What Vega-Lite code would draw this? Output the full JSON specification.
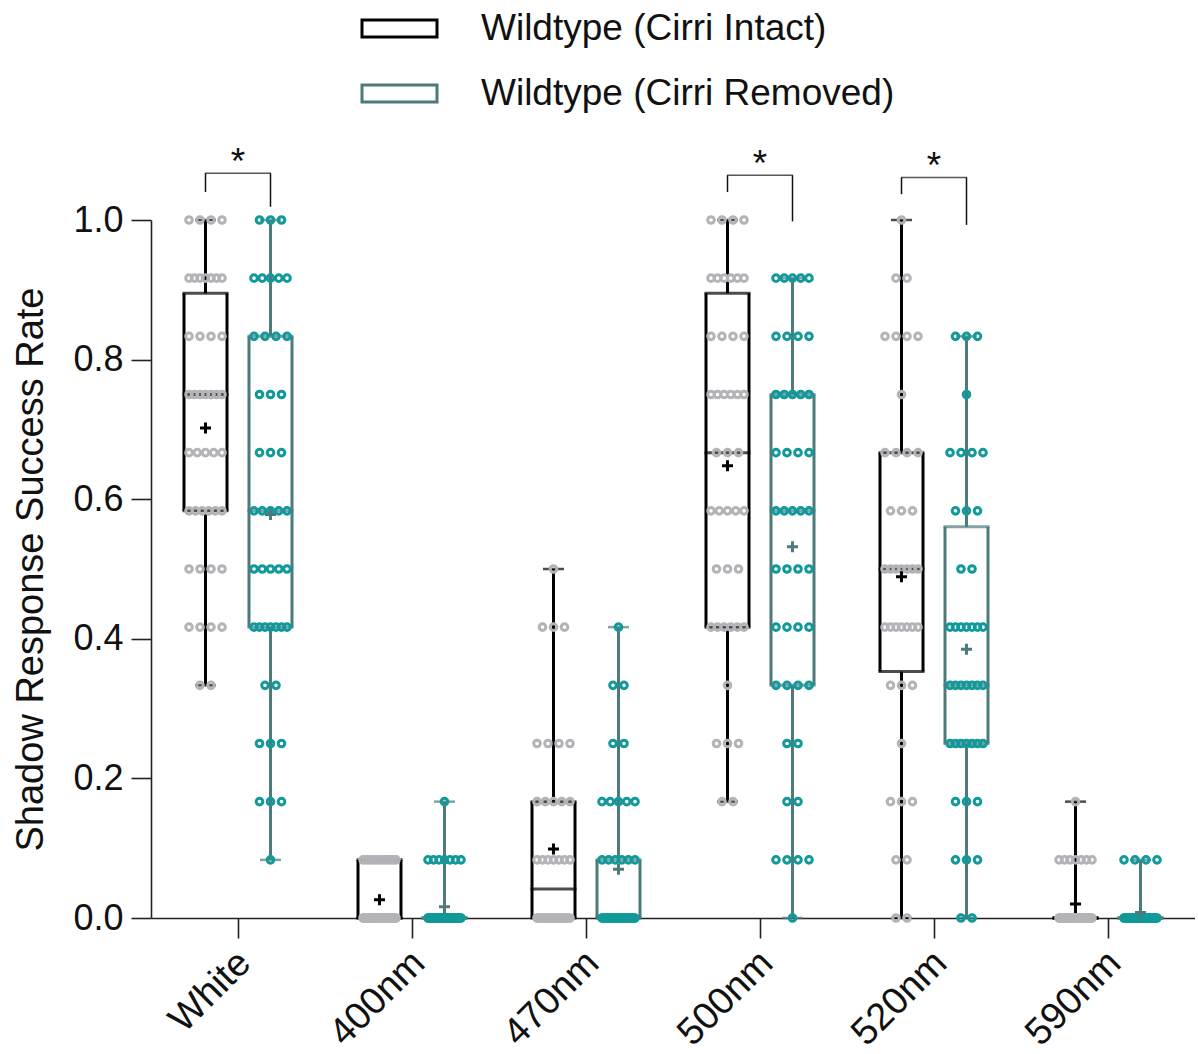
{
"$schema": "https://vega.github.io/schema/vega-lite/v6.json",
"width": 1044, "height": 698,
"autosize": {"type": "pad"},
"padding": {"left": 12, "top": 0, "right": 0, "bottom": 0},
"background": "white",
"config": {
 "font": "Liberation Sans",
 "view": {"stroke": null},
 "axis": {"domainColor": "#222222", "tickColor": "#222222", "domainWidth": 1.6, "tickWidth": 1.6, "labelColor": "#111111", "titleColor": "#111111", "grid": false, "labelFont": "Liberation Sans", "titleFont": "Liberation Sans"},
 "axisY": {"tickCount": 6, "labelFontSize": 36, "titleFontSize": 38, "titleFontWeight": "normal", "tickSize": 20, "labelPadding": 8, "titlePadding": 22},
 "axisX": {"labelAngle": -45, "labelFontSize": 38, "tickSize": 20, "labelPadding": 19, "labelOffset": 7, "labelAlign": "right", "labelBaseline": "middle"}
},
"datasets": {
"stats": [
{"light":"White","grp":"Intact","min":0.3333,"q1":0.5833,"median":0.75,"q3":0.895,"max":1,"mean":0.702},
{"light":"White","grp":"Removed","min":0.0833,"q1":0.4167,"median":0.5833,"q3":0.8333,"max":1,"mean":0.578},
{"light":"400nm","grp":"Intact","min":0,"q1":0,"median":0,"q3":0.0833,"max":0.0833,"mean":0.026},
{"light":"400nm","grp":"Removed","min":0,"q1":0,"median":0,"q3":0,"max":0.1667,"mean":0.016},
{"light":"470nm","grp":"Intact","min":0,"q1":0,"median":0.0417,"q3":0.1667,"max":0.5,"mean":0.099},
{"light":"470nm","grp":"Removed","min":0,"q1":0,"median":0,"q3":0.0833,"max":0.4167,"mean":0.07},
{"light":"500nm","grp":"Intact","min":0.1667,"q1":0.4167,"median":0.6667,"q3":0.895,"max":1,"mean":0.648},
{"light":"500nm","grp":"Removed","min":0,"q1":0.3333,"median":0.5833,"q3":0.75,"max":0.9167,"mean":0.532},
{"light":"520nm","grp":"Intact","min":0,"q1":0.353,"median":0.5,"q3":0.6667,"max":1,"mean":0.489},
{"light":"520nm","grp":"Removed","min":0,"q1":0.25,"median":0.3333,"q3":0.5605,"max":0.8333,"mean":0.385},
{"light":"590nm","grp":"Intact","min":0,"q1":0,"median":0,"q3":0,"max":0.1667,"mean":0.02},
{"light":"590nm","grp":"Removed","min":0,"q1":0,"median":0,"q3":0,"max":0.0833,"mean":0.008}
],
"sig": [
{"light":"White","top":1.067,"left":1.04,"right":1.019,"mark":"*"},
{"light":"500nm","top":1.064,"left":1.04,"right":0.998,"mark":"*"},
{"light":"520nm","top":1.061,"left":1.037,"right":0.993,"mark":"*"}
],
"dots": [
{"light":"White","grp":"Intact","rate":1},{"light":"White","grp":"Intact","rate":1},{"light":"White","grp":"Intact","rate":1},{"light":"White","grp":"Intact","rate":1},
{"light":"White","grp":"Intact","rate":0.9167},{"light":"White","grp":"Intact","rate":0.9167},{"light":"White","grp":"Intact","rate":0.9167},{"light":"White","grp":"Intact","rate":0.9167},{"light":"White","grp":"Intact","rate":0.9167},{"light":"White","grp":"Intact","rate":0.9167},{"light":"White","grp":"Intact","rate":0.9167},
{"light":"White","grp":"Intact","rate":0.8333},{"light":"White","grp":"Intact","rate":0.8333},{"light":"White","grp":"Intact","rate":0.8333},{"light":"White","grp":"Intact","rate":0.8333},
{"light":"White","grp":"Intact","rate":0.75},{"light":"White","grp":"Intact","rate":0.75},{"light":"White","grp":"Intact","rate":0.75},{"light":"White","grp":"Intact","rate":0.75},{"light":"White","grp":"Intact","rate":0.75},{"light":"White","grp":"Intact","rate":0.75},{"light":"White","grp":"Intact","rate":0.75},
{"light":"White","grp":"Intact","rate":0.6667},{"light":"White","grp":"Intact","rate":0.6667},{"light":"White","grp":"Intact","rate":0.6667},{"light":"White","grp":"Intact","rate":0.6667},{"light":"White","grp":"Intact","rate":0.6667},
{"light":"White","grp":"Intact","rate":0.5833},{"light":"White","grp":"Intact","rate":0.5833},{"light":"White","grp":"Intact","rate":0.5833},{"light":"White","grp":"Intact","rate":0.5833},{"light":"White","grp":"Intact","rate":0.5833},{"light":"White","grp":"Intact","rate":0.5833},
{"light":"White","grp":"Intact","rate":0.5},{"light":"White","grp":"Intact","rate":0.5},{"light":"White","grp":"Intact","rate":0.5},{"light":"White","grp":"Intact","rate":0.5},
{"light":"White","grp":"Intact","rate":0.4167},{"light":"White","grp":"Intact","rate":0.4167},{"light":"White","grp":"Intact","rate":0.4167},{"light":"White","grp":"Intact","rate":0.4167},
{"light":"White","grp":"Intact","rate":0.3333},{"light":"White","grp":"Intact","rate":0.3333},
{"light":"White","grp":"Removed","rate":1},{"light":"White","grp":"Removed","rate":1},{"light":"White","grp":"Removed","rate":1},
{"light":"White","grp":"Removed","rate":0.9167},{"light":"White","grp":"Removed","rate":0.9167},{"light":"White","grp":"Removed","rate":0.9167},{"light":"White","grp":"Removed","rate":0.9167},{"light":"White","grp":"Removed","rate":0.9167},
{"light":"White","grp":"Removed","rate":0.8333},{"light":"White","grp":"Removed","rate":0.8333},{"light":"White","grp":"Removed","rate":0.8333},{"light":"White","grp":"Removed","rate":0.8333},
{"light":"White","grp":"Removed","rate":0.75},{"light":"White","grp":"Removed","rate":0.75},{"light":"White","grp":"Removed","rate":0.75},
{"light":"White","grp":"Removed","rate":0.6667},{"light":"White","grp":"Removed","rate":0.6667},{"light":"White","grp":"Removed","rate":0.6667},
{"light":"White","grp":"Removed","rate":0.5833},{"light":"White","grp":"Removed","rate":0.5833},{"light":"White","grp":"Removed","rate":0.5833},{"light":"White","grp":"Removed","rate":0.5833},{"light":"White","grp":"Removed","rate":0.5833},
{"light":"White","grp":"Removed","rate":0.5},{"light":"White","grp":"Removed","rate":0.5},{"light":"White","grp":"Removed","rate":0.5},{"light":"White","grp":"Removed","rate":0.5},{"light":"White","grp":"Removed","rate":0.5},
{"light":"White","grp":"Removed","rate":0.4167},{"light":"White","grp":"Removed","rate":0.4167},{"light":"White","grp":"Removed","rate":0.4167},{"light":"White","grp":"Removed","rate":0.4167},{"light":"White","grp":"Removed","rate":0.4167},{"light":"White","grp":"Removed","rate":0.4167},{"light":"White","grp":"Removed","rate":0.4167},
{"light":"White","grp":"Removed","rate":0.3333},{"light":"White","grp":"Removed","rate":0.3333},
{"light":"White","grp":"Removed","rate":0.25},{"light":"White","grp":"Removed","rate":0.25},{"light":"White","grp":"Removed","rate":0.25},
{"light":"White","grp":"Removed","rate":0.1667},{"light":"White","grp":"Removed","rate":0.1667},{"light":"White","grp":"Removed","rate":0.1667},
{"light":"White","grp":"Removed","rate":0.0833},
{"light":"400nm","grp":"Intact","rate":0.0833},{"light":"400nm","grp":"Intact","rate":0.0833},{"light":"400nm","grp":"Intact","rate":0.0833},{"light":"400nm","grp":"Intact","rate":0.0833},{"light":"400nm","grp":"Intact","rate":0.0833},{"light":"400nm","grp":"Intact","rate":0.0833},{"light":"400nm","grp":"Intact","rate":0.0833},{"light":"400nm","grp":"Intact","rate":0.0833},{"light":"400nm","grp":"Intact","rate":0.0833},{"light":"400nm","grp":"Intact","rate":0.0833},{"light":"400nm","grp":"Intact","rate":0.0833},{"light":"400nm","grp":"Intact","rate":0.0833},
{"light":"400nm","grp":"Intact","rate":0},{"light":"400nm","grp":"Intact","rate":0},{"light":"400nm","grp":"Intact","rate":0},{"light":"400nm","grp":"Intact","rate":0},{"light":"400nm","grp":"Intact","rate":0},{"light":"400nm","grp":"Intact","rate":0},{"light":"400nm","grp":"Intact","rate":0},{"light":"400nm","grp":"Intact","rate":0},{"light":"400nm","grp":"Intact","rate":0},{"light":"400nm","grp":"Intact","rate":0},
{"light":"400nm","grp":"Intact","rate":0},{"light":"400nm","grp":"Intact","rate":0},{"light":"400nm","grp":"Intact","rate":0},{"light":"400nm","grp":"Intact","rate":0},{"light":"400nm","grp":"Intact","rate":0},{"light":"400nm","grp":"Intact","rate":0},{"light":"400nm","grp":"Intact","rate":0},{"light":"400nm","grp":"Intact","rate":0},{"light":"400nm","grp":"Intact","rate":0},{"light":"400nm","grp":"Intact","rate":0},
{"light":"400nm","grp":"Intact","rate":0},{"light":"400nm","grp":"Intact","rate":0},{"light":"400nm","grp":"Intact","rate":0},{"light":"400nm","grp":"Intact","rate":0},{"light":"400nm","grp":"Intact","rate":0},{"light":"400nm","grp":"Intact","rate":0},{"light":"400nm","grp":"Intact","rate":0},{"light":"400nm","grp":"Intact","rate":0},{"light":"400nm","grp":"Intact","rate":0},{"light":"400nm","grp":"Intact","rate":0},
{"light":"400nm","grp":"Removed","rate":0.1667},
{"light":"400nm","grp":"Removed","rate":0.0833},{"light":"400nm","grp":"Removed","rate":0.0833},{"light":"400nm","grp":"Removed","rate":0.0833},{"light":"400nm","grp":"Removed","rate":0.0833},{"light":"400nm","grp":"Removed","rate":0.0833},{"light":"400nm","grp":"Removed","rate":0.0833},{"light":"400nm","grp":"Removed","rate":0.0833},
{"light":"400nm","grp":"Removed","rate":0},{"light":"400nm","grp":"Removed","rate":0},{"light":"400nm","grp":"Removed","rate":0},{"light":"400nm","grp":"Removed","rate":0},{"light":"400nm","grp":"Removed","rate":0},{"light":"400nm","grp":"Removed","rate":0},{"light":"400nm","grp":"Removed","rate":0},{"light":"400nm","grp":"Removed","rate":0},{"light":"400nm","grp":"Removed","rate":0},{"light":"400nm","grp":"Removed","rate":0},
{"light":"400nm","grp":"Removed","rate":0},{"light":"400nm","grp":"Removed","rate":0},{"light":"400nm","grp":"Removed","rate":0},{"light":"400nm","grp":"Removed","rate":0},{"light":"400nm","grp":"Removed","rate":0},{"light":"400nm","grp":"Removed","rate":0},{"light":"400nm","grp":"Removed","rate":0},{"light":"400nm","grp":"Removed","rate":0},{"light":"400nm","grp":"Removed","rate":0},{"light":"400nm","grp":"Removed","rate":0},
{"light":"400nm","grp":"Removed","rate":0},{"light":"400nm","grp":"Removed","rate":0},{"light":"400nm","grp":"Removed","rate":0},{"light":"400nm","grp":"Removed","rate":0},{"light":"400nm","grp":"Removed","rate":0},{"light":"400nm","grp":"Removed","rate":0},{"light":"400nm","grp":"Removed","rate":0},{"light":"400nm","grp":"Removed","rate":0},{"light":"400nm","grp":"Removed","rate":0},{"light":"400nm","grp":"Removed","rate":0},
{"light":"400nm","grp":"Removed","rate":0},{"light":"400nm","grp":"Removed","rate":0},{"light":"400nm","grp":"Removed","rate":0},{"light":"400nm","grp":"Removed","rate":0},{"light":"400nm","grp":"Removed","rate":0},{"light":"400nm","grp":"Removed","rate":0},{"light":"400nm","grp":"Removed","rate":0},{"light":"400nm","grp":"Removed","rate":0},{"light":"400nm","grp":"Removed","rate":0},
{"light":"470nm","grp":"Intact","rate":0.5},
{"light":"470nm","grp":"Intact","rate":0.4167},{"light":"470nm","grp":"Intact","rate":0.4167},{"light":"470nm","grp":"Intact","rate":0.4167},
{"light":"470nm","grp":"Intact","rate":0.25},{"light":"470nm","grp":"Intact","rate":0.25},{"light":"470nm","grp":"Intact","rate":0.25},{"light":"470nm","grp":"Intact","rate":0.25},
{"light":"470nm","grp":"Intact","rate":0.1667},{"light":"470nm","grp":"Intact","rate":0.1667},{"light":"470nm","grp":"Intact","rate":0.1667},{"light":"470nm","grp":"Intact","rate":0.1667},{"light":"470nm","grp":"Intact","rate":0.1667},
{"light":"470nm","grp":"Intact","rate":0.0833},{"light":"470nm","grp":"Intact","rate":0.0833},{"light":"470nm","grp":"Intact","rate":0.0833},{"light":"470nm","grp":"Intact","rate":0.0833},{"light":"470nm","grp":"Intact","rate":0.0833},{"light":"470nm","grp":"Intact","rate":0.0833},{"light":"470nm","grp":"Intact","rate":0.0833},
{"light":"470nm","grp":"Intact","rate":0},{"light":"470nm","grp":"Intact","rate":0},{"light":"470nm","grp":"Intact","rate":0},{"light":"470nm","grp":"Intact","rate":0},{"light":"470nm","grp":"Intact","rate":0},{"light":"470nm","grp":"Intact","rate":0},{"light":"470nm","grp":"Intact","rate":0},{"light":"470nm","grp":"Intact","rate":0},{"light":"470nm","grp":"Intact","rate":0},{"light":"470nm","grp":"Intact","rate":0},
{"light":"470nm","grp":"Intact","rate":0},{"light":"470nm","grp":"Intact","rate":0},{"light":"470nm","grp":"Intact","rate":0},{"light":"470nm","grp":"Intact","rate":0},{"light":"470nm","grp":"Intact","rate":0},{"light":"470nm","grp":"Intact","rate":0},{"light":"470nm","grp":"Intact","rate":0},{"light":"470nm","grp":"Intact","rate":0},{"light":"470nm","grp":"Intact","rate":0},{"light":"470nm","grp":"Intact","rate":0},
{"light":"470nm","grp":"Removed","rate":0.4167},
{"light":"470nm","grp":"Removed","rate":0.3333},{"light":"470nm","grp":"Removed","rate":0.3333},
{"light":"470nm","grp":"Removed","rate":0.25},{"light":"470nm","grp":"Removed","rate":0.25},
{"light":"470nm","grp":"Removed","rate":0.1667},{"light":"470nm","grp":"Removed","rate":0.1667},{"light":"470nm","grp":"Removed","rate":0.1667},{"light":"470nm","grp":"Removed","rate":0.1667},{"light":"470nm","grp":"Removed","rate":0.1667},
{"light":"470nm","grp":"Removed","rate":0.0833},{"light":"470nm","grp":"Removed","rate":0.0833},{"light":"470nm","grp":"Removed","rate":0.0833},{"light":"470nm","grp":"Removed","rate":0.0833},{"light":"470nm","grp":"Removed","rate":0.0833},{"light":"470nm","grp":"Removed","rate":0.0833},
{"light":"470nm","grp":"Removed","rate":0},{"light":"470nm","grp":"Removed","rate":0},{"light":"470nm","grp":"Removed","rate":0},{"light":"470nm","grp":"Removed","rate":0},{"light":"470nm","grp":"Removed","rate":0},{"light":"470nm","grp":"Removed","rate":0},{"light":"470nm","grp":"Removed","rate":0},{"light":"470nm","grp":"Removed","rate":0},{"light":"470nm","grp":"Removed","rate":0},{"light":"470nm","grp":"Removed","rate":0},
{"light":"470nm","grp":"Removed","rate":0},{"light":"470nm","grp":"Removed","rate":0},{"light":"470nm","grp":"Removed","rate":0},{"light":"470nm","grp":"Removed","rate":0},{"light":"470nm","grp":"Removed","rate":0},{"light":"470nm","grp":"Removed","rate":0},{"light":"470nm","grp":"Removed","rate":0},{"light":"470nm","grp":"Removed","rate":0},{"light":"470nm","grp":"Removed","rate":0},{"light":"470nm","grp":"Removed","rate":0},
{"light":"470nm","grp":"Removed","rate":0},{"light":"470nm","grp":"Removed","rate":0},{"light":"470nm","grp":"Removed","rate":0},{"light":"470nm","grp":"Removed","rate":0},{"light":"470nm","grp":"Removed","rate":0},{"light":"470nm","grp":"Removed","rate":0},
{"light":"500nm","grp":"Intact","rate":1},{"light":"500nm","grp":"Intact","rate":1},{"light":"500nm","grp":"Intact","rate":1},{"light":"500nm","grp":"Intact","rate":1},
{"light":"500nm","grp":"Intact","rate":0.9167},{"light":"500nm","grp":"Intact","rate":0.9167},{"light":"500nm","grp":"Intact","rate":0.9167},{"light":"500nm","grp":"Intact","rate":0.9167},{"light":"500nm","grp":"Intact","rate":0.9167},{"light":"500nm","grp":"Intact","rate":0.9167},
{"light":"500nm","grp":"Intact","rate":0.8333},{"light":"500nm","grp":"Intact","rate":0.8333},{"light":"500nm","grp":"Intact","rate":0.8333},{"light":"500nm","grp":"Intact","rate":0.8333},
{"light":"500nm","grp":"Intact","rate":0.75},{"light":"500nm","grp":"Intact","rate":0.75},{"light":"500nm","grp":"Intact","rate":0.75},{"light":"500nm","grp":"Intact","rate":0.75},{"light":"500nm","grp":"Intact","rate":0.75},{"light":"500nm","grp":"Intact","rate":0.75},
{"light":"500nm","grp":"Intact","rate":0.6667},{"light":"500nm","grp":"Intact","rate":0.6667},{"light":"500nm","grp":"Intact","rate":0.6667},
{"light":"500nm","grp":"Intact","rate":0.5833},{"light":"500nm","grp":"Intact","rate":0.5833},{"light":"500nm","grp":"Intact","rate":0.5833},{"light":"500nm","grp":"Intact","rate":0.5833},{"light":"500nm","grp":"Intact","rate":0.5833},
{"light":"500nm","grp":"Intact","rate":0.5},{"light":"500nm","grp":"Intact","rate":0.5},{"light":"500nm","grp":"Intact","rate":0.5},
{"light":"500nm","grp":"Intact","rate":0.4167},{"light":"500nm","grp":"Intact","rate":0.4167},{"light":"500nm","grp":"Intact","rate":0.4167},{"light":"500nm","grp":"Intact","rate":0.4167},{"light":"500nm","grp":"Intact","rate":0.4167},{"light":"500nm","grp":"Intact","rate":0.4167},
{"light":"500nm","grp":"Intact","rate":0.3333},
{"light":"500nm","grp":"Intact","rate":0.25},{"light":"500nm","grp":"Intact","rate":0.25},{"light":"500nm","grp":"Intact","rate":0.25},
{"light":"500nm","grp":"Intact","rate":0.1667},{"light":"500nm","grp":"Intact","rate":0.1667},
{"light":"500nm","grp":"Removed","rate":0.9167},{"light":"500nm","grp":"Removed","rate":0.9167},{"light":"500nm","grp":"Removed","rate":0.9167},{"light":"500nm","grp":"Removed","rate":0.9167},{"light":"500nm","grp":"Removed","rate":0.9167},
{"light":"500nm","grp":"Removed","rate":0.8333},{"light":"500nm","grp":"Removed","rate":0.8333},{"light":"500nm","grp":"Removed","rate":0.8333},{"light":"500nm","grp":"Removed","rate":0.8333},
{"light":"500nm","grp":"Removed","rate":0.75},{"light":"500nm","grp":"Removed","rate":0.75},{"light":"500nm","grp":"Removed","rate":0.75},{"light":"500nm","grp":"Removed","rate":0.75},{"light":"500nm","grp":"Removed","rate":0.75},
{"light":"500nm","grp":"Removed","rate":0.6667},{"light":"500nm","grp":"Removed","rate":0.6667},{"light":"500nm","grp":"Removed","rate":0.6667},{"light":"500nm","grp":"Removed","rate":0.6667},
{"light":"500nm","grp":"Removed","rate":0.5833},{"light":"500nm","grp":"Removed","rate":0.5833},{"light":"500nm","grp":"Removed","rate":0.5833},{"light":"500nm","grp":"Removed","rate":0.5833},{"light":"500nm","grp":"Removed","rate":0.5833},
{"light":"500nm","grp":"Removed","rate":0.5},{"light":"500nm","grp":"Removed","rate":0.5},{"light":"500nm","grp":"Removed","rate":0.5},{"light":"500nm","grp":"Removed","rate":0.5},
{"light":"500nm","grp":"Removed","rate":0.4167},{"light":"500nm","grp":"Removed","rate":0.4167},{"light":"500nm","grp":"Removed","rate":0.4167},{"light":"500nm","grp":"Removed","rate":0.4167},
{"light":"500nm","grp":"Removed","rate":0.3333},{"light":"500nm","grp":"Removed","rate":0.3333},{"light":"500nm","grp":"Removed","rate":0.3333},{"light":"500nm","grp":"Removed","rate":0.3333},
{"light":"500nm","grp":"Removed","rate":0.25},{"light":"500nm","grp":"Removed","rate":0.25},
{"light":"500nm","grp":"Removed","rate":0.1667},{"light":"500nm","grp":"Removed","rate":0.1667},
{"light":"500nm","grp":"Removed","rate":0.0833},{"light":"500nm","grp":"Removed","rate":0.0833},{"light":"500nm","grp":"Removed","rate":0.0833},{"light":"500nm","grp":"Removed","rate":0.0833},
{"light":"500nm","grp":"Removed","rate":0},
{"light":"520nm","grp":"Intact","rate":1},
{"light":"520nm","grp":"Intact","rate":0.9167},{"light":"520nm","grp":"Intact","rate":0.9167},
{"light":"520nm","grp":"Intact","rate":0.8333},{"light":"520nm","grp":"Intact","rate":0.8333},{"light":"520nm","grp":"Intact","rate":0.8333},{"light":"520nm","grp":"Intact","rate":0.8333},
{"light":"520nm","grp":"Intact","rate":0.75},
{"light":"520nm","grp":"Intact","rate":0.6667},{"light":"520nm","grp":"Intact","rate":0.6667},{"light":"520nm","grp":"Intact","rate":0.6667},{"light":"520nm","grp":"Intact","rate":0.6667},
{"light":"520nm","grp":"Intact","rate":0.5833},{"light":"520nm","grp":"Intact","rate":0.5833},{"light":"520nm","grp":"Intact","rate":0.5833},
{"light":"520nm","grp":"Intact","rate":0.5},{"light":"520nm","grp":"Intact","rate":0.5},{"light":"520nm","grp":"Intact","rate":0.5},{"light":"520nm","grp":"Intact","rate":0.5},{"light":"520nm","grp":"Intact","rate":0.5},{"light":"520nm","grp":"Intact","rate":0.5},{"light":"520nm","grp":"Intact","rate":0.5},
{"light":"520nm","grp":"Intact","rate":0.4167},{"light":"520nm","grp":"Intact","rate":0.4167},{"light":"520nm","grp":"Intact","rate":0.4167},{"light":"520nm","grp":"Intact","rate":0.4167},{"light":"520nm","grp":"Intact","rate":0.4167},{"light":"520nm","grp":"Intact","rate":0.4167},{"light":"520nm","grp":"Intact","rate":0.4167},
{"light":"520nm","grp":"Intact","rate":0.3333},{"light":"520nm","grp":"Intact","rate":0.3333},{"light":"520nm","grp":"Intact","rate":0.3333},
{"light":"520nm","grp":"Intact","rate":0.25},
{"light":"520nm","grp":"Intact","rate":0.1667},{"light":"520nm","grp":"Intact","rate":0.1667},{"light":"520nm","grp":"Intact","rate":0.1667},
{"light":"520nm","grp":"Intact","rate":0.0833},{"light":"520nm","grp":"Intact","rate":0.0833},
{"light":"520nm","grp":"Intact","rate":0},{"light":"520nm","grp":"Intact","rate":0},
{"light":"520nm","grp":"Removed","rate":0.8333},{"light":"520nm","grp":"Removed","rate":0.8333},{"light":"520nm","grp":"Removed","rate":0.8333},
{"light":"520nm","grp":"Removed","rate":0.75},
{"light":"520nm","grp":"Removed","rate":0.6667},{"light":"520nm","grp":"Removed","rate":0.6667},{"light":"520nm","grp":"Removed","rate":0.6667},{"light":"520nm","grp":"Removed","rate":0.6667},
{"light":"520nm","grp":"Removed","rate":0.5833},{"light":"520nm","grp":"Removed","rate":0.5833},{"light":"520nm","grp":"Removed","rate":0.5833},
{"light":"520nm","grp":"Removed","rate":0.5},{"light":"520nm","grp":"Removed","rate":0.5},
{"light":"520nm","grp":"Removed","rate":0.4167},{"light":"520nm","grp":"Removed","rate":0.4167},{"light":"520nm","grp":"Removed","rate":0.4167},{"light":"520nm","grp":"Removed","rate":0.4167},{"light":"520nm","grp":"Removed","rate":0.4167},{"light":"520nm","grp":"Removed","rate":0.4167},{"light":"520nm","grp":"Removed","rate":0.4167},
{"light":"520nm","grp":"Removed","rate":0.3333},{"light":"520nm","grp":"Removed","rate":0.3333},{"light":"520nm","grp":"Removed","rate":0.3333},{"light":"520nm","grp":"Removed","rate":0.3333},{"light":"520nm","grp":"Removed","rate":0.3333},{"light":"520nm","grp":"Removed","rate":0.3333},{"light":"520nm","grp":"Removed","rate":0.3333},
{"light":"520nm","grp":"Removed","rate":0.25},{"light":"520nm","grp":"Removed","rate":0.25},{"light":"520nm","grp":"Removed","rate":0.25},{"light":"520nm","grp":"Removed","rate":0.25},{"light":"520nm","grp":"Removed","rate":0.25},{"light":"520nm","grp":"Removed","rate":0.25},{"light":"520nm","grp":"Removed","rate":0.25},
{"light":"520nm","grp":"Removed","rate":0.1667},{"light":"520nm","grp":"Removed","rate":0.1667},{"light":"520nm","grp":"Removed","rate":0.1667},
{"light":"520nm","grp":"Removed","rate":0.0833},{"light":"520nm","grp":"Removed","rate":0.0833},{"light":"520nm","grp":"Removed","rate":0.0833},
{"light":"520nm","grp":"Removed","rate":0},{"light":"520nm","grp":"Removed","rate":0},
{"light":"590nm","grp":"Intact","rate":0.1667},
{"light":"590nm","grp":"Intact","rate":0.0833},{"light":"590nm","grp":"Intact","rate":0.0833},{"light":"590nm","grp":"Intact","rate":0.0833},{"light":"590nm","grp":"Intact","rate":0.0833},{"light":"590nm","grp":"Intact","rate":0.0833},{"light":"590nm","grp":"Intact","rate":0.0833},{"light":"590nm","grp":"Intact","rate":0.0833},
{"light":"590nm","grp":"Intact","rate":0},{"light":"590nm","grp":"Intact","rate":0},{"light":"590nm","grp":"Intact","rate":0},{"light":"590nm","grp":"Intact","rate":0},{"light":"590nm","grp":"Intact","rate":0},{"light":"590nm","grp":"Intact","rate":0},{"light":"590nm","grp":"Intact","rate":0},{"light":"590nm","grp":"Intact","rate":0},{"light":"590nm","grp":"Intact","rate":0},{"light":"590nm","grp":"Intact","rate":0},
{"light":"590nm","grp":"Intact","rate":0},{"light":"590nm","grp":"Intact","rate":0},{"light":"590nm","grp":"Intact","rate":0},{"light":"590nm","grp":"Intact","rate":0},{"light":"590nm","grp":"Intact","rate":0},{"light":"590nm","grp":"Intact","rate":0},{"light":"590nm","grp":"Intact","rate":0},{"light":"590nm","grp":"Intact","rate":0},{"light":"590nm","grp":"Intact","rate":0},{"light":"590nm","grp":"Intact","rate":0},
{"light":"590nm","grp":"Intact","rate":0},{"light":"590nm","grp":"Intact","rate":0},{"light":"590nm","grp":"Intact","rate":0},{"light":"590nm","grp":"Intact","rate":0},{"light":"590nm","grp":"Intact","rate":0},{"light":"590nm","grp":"Intact","rate":0},{"light":"590nm","grp":"Intact","rate":0},{"light":"590nm","grp":"Intact","rate":0},{"light":"590nm","grp":"Intact","rate":0},{"light":"590nm","grp":"Intact","rate":0},
{"light":"590nm","grp":"Removed","rate":0.0833},{"light":"590nm","grp":"Removed","rate":0.0833},{"light":"590nm","grp":"Removed","rate":0.0833},{"light":"590nm","grp":"Removed","rate":0.0833},
{"light":"590nm","grp":"Removed","rate":0},{"light":"590nm","grp":"Removed","rate":0},{"light":"590nm","grp":"Removed","rate":0},{"light":"590nm","grp":"Removed","rate":0},{"light":"590nm","grp":"Removed","rate":0},{"light":"590nm","grp":"Removed","rate":0},{"light":"590nm","grp":"Removed","rate":0},{"light":"590nm","grp":"Removed","rate":0},{"light":"590nm","grp":"Removed","rate":0},{"light":"590nm","grp":"Removed","rate":0},
{"light":"590nm","grp":"Removed","rate":0},{"light":"590nm","grp":"Removed","rate":0},{"light":"590nm","grp":"Removed","rate":0},{"light":"590nm","grp":"Removed","rate":0},{"light":"590nm","grp":"Removed","rate":0},{"light":"590nm","grp":"Removed","rate":0},{"light":"590nm","grp":"Removed","rate":0},{"light":"590nm","grp":"Removed","rate":0},{"light":"590nm","grp":"Removed","rate":0},{"light":"590nm","grp":"Removed","rate":0},
{"light":"590nm","grp":"Removed","rate":0},{"light":"590nm","grp":"Removed","rate":0},{"light":"590nm","grp":"Removed","rate":0},{"light":"590nm","grp":"Removed","rate":0},{"light":"590nm","grp":"Removed","rate":0},{"light":"590nm","grp":"Removed","rate":0},{"light":"590nm","grp":"Removed","rate":0},{"light":"590nm","grp":"Removed","rate":0},{"light":"590nm","grp":"Removed","rate":0},{"light":"590nm","grp":"Removed","rate":0},
{"light":"590nm","grp":"Removed","rate":0},{"light":"590nm","grp":"Removed","rate":0},{"light":"590nm","grp":"Removed","rate":0},{"light":"590nm","grp":"Removed","rate":0},{"light":"590nm","grp":"Removed","rate":0},{"light":"590nm","grp":"Removed","rate":0}
]
},
"encoding": {
 "x": {"field": "light", "type": "nominal", "sort": ["White","400nm","470nm","500nm","520nm","590nm"], "scale": {"type": "band", "paddingInner": 0, "paddingOuter": 0}, "title": null}
},
"layer": [
 {"data": {"name": "stats"},
  "transform": [{"calculate": "datum.grp == 'Intact' ? -32.5 : 32.5", "as": "off"}],
  "mark": {"type": "point", "filled": false, "opacity": 0, "strokeWidth": 3},
  "encoding": {
   "y": {"field": "mean", "type": "quantitative", "scale": {"domain": [0, 1], "nice": false}, "title": "Shadow Response Success Rate"},
   "xOffset": {"field": "off", "type": "quantitative", "scale": {"domain": [-87, 87], "range": [0, 174]}},
   "stroke": {"field": "grp", "type": "nominal", "scale": {"domain": ["Intact","Removed"], "range": ["#000000","#4d7b7c"]},
     "legend": {"title": null, "orient": "none", "legendX": 220, "legendY": -220, "direction": "vertical", "labelFontSize": 37, "labelColor": "#111111", "labelFont": "Liberation Sans", "labelLimit": 800, "symbolType": "M-1.389,-0.315H1.389V0.315H-1.389Z", "symbolSize": 2916, "symbolStrokeWidth": 3, "symbolOpacity": 1, "symbolFillColor": "white", "labelOffset": 53, "rowPadding": 18, "padding": 0,
       "labelExpr": "datum.label == 'Intact' ? 'Wildtype (Cirri Intact)' : 'Wildtype (Cirri Removed)'",
       "encode": {"symbols": {"update": {"fill": {"value": "#ffffff"}, "fillOpacity": {"value": 1}}}}}}
  }},
 {"data": {"name": "stats"},
  "transform": [{"calculate": "datum.grp == 'Intact' ? -32.5 : 32.5", "as": "off"}],
  "mark": {"type": "rule", "strokeWidth": 3},
  "encoding": {
   "y": {"field": "q3", "type": "quantitative", "scale": {"domain": [0, 1], "nice": false}, "title": "Shadow Response Success Rate"},
   "y2": {"field": "max"},
   "xOffset": {"field": "off", "type": "quantitative", "scale": {"domain": [-87, 87], "range": [0, 174]}},
   "stroke": {"field": "grp", "type": "nominal", "legend": null}
  }},
 {"data": {"name": "stats"},
  "transform": [{"calculate": "datum.grp == 'Intact' ? -32.5 : 32.5", "as": "off"}],
  "mark": {"type": "rule", "strokeWidth": 3},
  "encoding": {
   "y": {"field": "min", "type": "quantitative", "scale": {"domain": [0, 1], "nice": false}, "title": "Shadow Response Success Rate"},
   "y2": {"field": "q1"},
   "xOffset": {"field": "off", "type": "quantitative", "scale": {"domain": [-87, 87], "range": [0, 174]}},
   "stroke": {"field": "grp", "type": "nominal", "legend": null}
  }},
 {"data": {"name": "stats"},
  "transform": [{"calculate": "(datum.grp == 'Intact' ? -32.5 : 32.5) - 21.5", "as": "side"}],
  "mark": {"type": "rule", "strokeWidth": 3},
  "encoding": {
   "y": {"field": "q1", "type": "quantitative", "scale": {"domain": [0, 1], "nice": false}, "title": "Shadow Response Success Rate"},
   "y2": {"field": "q3"},
   "xOffset": {"field": "side", "type": "quantitative", "scale": {"domain": [-87, 87], "range": [0, 174]}},
   "stroke": {"field": "grp", "type": "nominal", "legend": null}
  }},
 {"data": {"name": "stats"},
  "transform": [{"calculate": "(datum.grp == 'Intact' ? -32.5 : 32.5) + 21.5", "as": "side"}],
  "mark": {"type": "rule", "strokeWidth": 3},
  "encoding": {
   "y": {"field": "q1", "type": "quantitative", "scale": {"domain": [0, 1], "nice": false}, "title": "Shadow Response Success Rate"},
   "y2": {"field": "q3"},
   "xOffset": {"field": "side", "type": "quantitative", "scale": {"domain": [-87, 87], "range": [0, 174]}},
   "stroke": {"field": "grp", "type": "nominal", "legend": null}
  }},
 {"data": {"name": "stats"},
  "transform": [{"filter": "datum.grp == 'Intact'"}, {"fold": ["q1", "q3", "median"], "as": ["stat", "val"]}, {"calculate": "-32.5", "as": "off"}],
  "mark": {"type": "tick", "size": 46, "thickness": 3, "color": "#000000"},
  "encoding": {
   "y": {"field": "val", "type": "quantitative", "scale": {"domain": [0, 1], "nice": false}, "title": "Shadow Response Success Rate"},
   "xOffset": {"field": "off", "type": "quantitative", "scale": {"domain": [-87, 87], "range": [0, 174]}}
  }},
 {"data": {"name": "stats"},
  "transform": [{"filter": "datum.grp == 'Removed'"}, {"fold": ["q1", "q3", "median"], "as": ["stat", "val"]}, {"calculate": "32.5", "as": "off"}],
  "mark": {"type": "tick", "size": 46, "thickness": 3, "color": "#4d7b7c"},
  "encoding": {
   "y": {"field": "val", "type": "quantitative", "scale": {"domain": [0, 1], "nice": false}, "title": "Shadow Response Success Rate"},
   "xOffset": {"field": "off", "type": "quantitative", "scale": {"domain": [-87, 87], "range": [0, 174]}}
  }},
 {"data": {"name": "stats"},
  "transform": [{"filter": "datum.grp == 'Intact'"}, {"fold": ["min", "max"], "as": ["stat", "val"]}, {"calculate": "-32.5", "as": "off"}],
  "mark": {"type": "tick", "size": 21, "thickness": 2.5, "color": "#000000"},
  "encoding": {
   "y": {"field": "val", "type": "quantitative", "scale": {"domain": [0, 1], "nice": false}, "title": "Shadow Response Success Rate"},
   "xOffset": {"field": "off", "type": "quantitative", "scale": {"domain": [-87, 87], "range": [0, 174]}}
  }},
 {"data": {"name": "stats"},
  "transform": [{"filter": "datum.grp == 'Removed'"}, {"fold": ["min", "max"], "as": ["stat", "val"]}, {"calculate": "32.5", "as": "off"}],
  "mark": {"type": "tick", "size": 21, "thickness": 2.5, "color": "#4d7b7c"},
  "encoding": {
   "y": {"field": "val", "type": "quantitative", "scale": {"domain": [0, 1], "nice": false}, "title": "Shadow Response Success Rate"},
   "xOffset": {"field": "off", "type": "quantitative", "scale": {"domain": [-87, 87], "range": [0, 174]}}
  }},
 {"data": {"name": "dots"},
  "transform": [
   {"joinaggregate": [{"op": "count", "as": "n"}], "groupby": ["light", "grp", "rate"]},
   {"window": [{"op": "row_number", "as": "idx"}], "groupby": ["light", "grp", "rate"]},
   {"calculate": "min(11, 33 / max(1, datum.n - 1))", "as": "sp"},
   {"calculate": "(datum.grp == 'Intact' ? -32.5 : 32.5) + (datum.idx - (datum.n + 1) / 2) * datum.sp", "as": "off"}
  ],
  "mark": {"type": "point", "filled": false, "strokeWidth": 3, "size": 44, "opacity": 1},
  "encoding": {
   "y": {"field": "rate", "type": "quantitative", "scale": {"domain": [0, 1], "nice": false}, "title": "Shadow Response Success Rate"},
   "xOffset": {"field": "off", "type": "quantitative", "scale": {"domain": [-87, 87], "range": [0, 174]}},
   "color": {"field": "grp", "type": "nominal", "scale": {"domain": ["Intact","Removed"], "range": ["#b3b3b8","#12999a"]}, "legend": null}
  }},
 {"data": {"name": "stats"},
  "transform": [{"filter": "datum.grp == 'Intact'"}, {"calculate": "-32.5", "as": "off"}],
  "mark": {"type": "point", "filled": true, "shape": "M-1,-0.27H-0.27V-1H0.27V-0.27H1V0.27H0.27V1H-0.27V0.27H-1Z", "size": 121, "opacity": 1, "color": "#000000"},
  "encoding": {
   "y": {"field": "mean", "type": "quantitative", "scale": {"domain": [0, 1], "nice": false}, "title": "Shadow Response Success Rate"},
   "xOffset": {"field": "off", "type": "quantitative", "scale": {"domain": [-87, 87], "range": [0, 174]}}
  }},
 {"data": {"name": "stats"},
  "transform": [{"filter": "datum.grp == 'Removed'"}, {"calculate": "32.5", "as": "off"}],
  "mark": {"type": "point", "filled": true, "shape": "M-1,-0.27H-0.27V-1H0.27V-0.27H1V0.27H0.27V1H-0.27V0.27H-1Z", "size": 121, "opacity": 1, "color": "#4d7b7c"},
  "encoding": {
   "y": {"field": "mean", "type": "quantitative", "scale": {"domain": [0, 1], "nice": false}, "title": "Shadow Response Success Rate"},
   "xOffset": {"field": "off", "type": "quantitative", "scale": {"domain": [-87, 87], "range": [0, 174]}}
  }},
 {"data": {"name": "sig"},
  "transform": [{"calculate": "0", "as": "mid"}],
  "mark": {"type": "tick", "size": 66, "thickness": 1.5, "color": "#111111"},
  "encoding": {
   "y": {"field": "top", "type": "quantitative", "scale": {"domain": [0, 1], "nice": false}, "title": "Shadow Response Success Rate"},
   "xOffset": {"field": "mid", "type": "quantitative", "scale": {"domain": [-87, 87], "range": [0, 174]}}
  }},
 {"data": {"name": "sig"},
  "transform": [{"calculate": "-32.5", "as": "legx"}],
  "mark": {"type": "rule", "strokeWidth": 1.5, "color": "#111111"},
  "encoding": {
   "y": {"field": "left", "type": "quantitative", "scale": {"domain": [0, 1], "nice": false}, "title": "Shadow Response Success Rate"},
   "y2": {"field": "top"},
   "xOffset": {"field": "legx", "type": "quantitative", "scale": {"domain": [-87, 87], "range": [0, 174]}}
  }},
 {"data": {"name": "sig"},
  "transform": [{"calculate": "32.5", "as": "legx"}],
  "mark": {"type": "rule", "strokeWidth": 1.5, "color": "#111111"},
  "encoding": {
   "y": {"field": "right", "type": "quantitative", "scale": {"domain": [0, 1], "nice": false}, "title": "Shadow Response Success Rate"},
   "y2": {"field": "top"},
   "xOffset": {"field": "legx", "type": "quantitative", "scale": {"domain": [-87, 87], "range": [0, 174]}}
  }},
 {"data": {"name": "sig"},
  "transform": [{"calculate": "0", "as": "mid"}],
  "mark": {"type": "text", "fontSize": 37, "baseline": "alphabetic", "align": "center", "dy": 1, "color": "#111111", "font": "Liberation Sans"},
  "encoding": {
   "y": {"field": "top", "type": "quantitative", "scale": {"domain": [0, 1], "nice": false}, "title": "Shadow Response Success Rate"},
   "xOffset": {"field": "mid", "type": "quantitative", "scale": {"domain": [-87, 87], "range": [0, 174]}},
   "text": {"field": "mark"}
  }}
]
}
